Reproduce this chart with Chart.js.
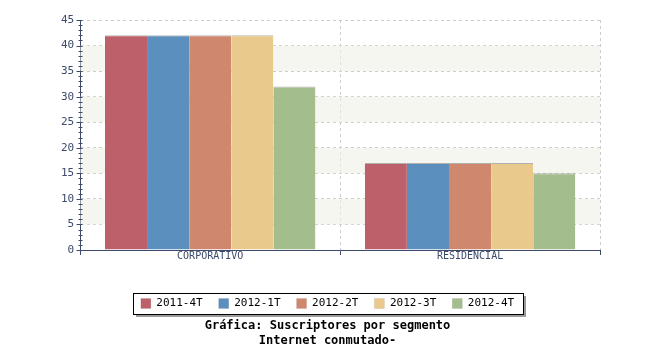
<!DOCTYPE html>
<html>
<head>
<meta charset="utf-8">
<script src="https://cdn.jsdelivr.net/npm/chart.js@4"></script>
<style>
  html, body { margin: 0; padding: 0; background: #fff; }
</style>
</head>
<body>
<canvas id="chart" width="650" height="350"></canvas>
<script>
const categories = ["CORPORATIVO", "RESIDENCIAL"];
const periods = ["2011-4T", "2012-1T", "2012-2T", "2012-3T", "2012-4T"];
const v2011_4T = [42, 17];
const v2012_1T = [42, 17];
const v2012_2T = [42, 17];
const v2012_3T = [42, 17];
const v2012_4T = [32, 15];
const titleLines = ["Gráfica: Suscriptores por segmento", "Internet conmutado-"];

const colors = ["#bd6069", "#5b8fbe", "#cf886e", "#e9ca8c", "#a4bd8c"];
const series = [v2011_4T, v2012_1T, v2012_2T, v2012_3T, v2012_4T];
const mono = "'DejaVu Sans Mono', monospace";
const axisColor = "#3d4a6b";

// alternating bands, minor ticks, legend frame
const decor = {
  id: "decor",
  beforeDraw(chart) {
    const { ctx, legend } = chart;
    const hb = legend.legendHitBoxes;
    if (!hb || !hb.length) return;
    const cy = hb[0].top + hb[0].height / 2;
    const cx = (hb[0].left + hb[hb.length - 1].left + hb[hb.length - 1].width) / 2;
    const w = 390, h = 21;
    const l = Math.round(cx - w / 2), t = Math.round(cy - h / 2);
    ctx.save();
    ctx.fillStyle = "#9a9a9a";
    ctx.fillRect(l + 3, t + 3, w, h);
    ctx.fillStyle = "#fff";
    ctx.fillRect(l, t, w, h);
    ctx.strokeStyle = "#000";
    ctx.lineWidth = 1;
    ctx.strokeRect(l + 0.5, t + 0.5, w, h);
    ctx.restore();
  },
  beforeDatasetsDraw(chart) {
    const { ctx, chartArea: a, scales: { y } } = chart;
    ctx.save();
    ctx.fillStyle = "rgba(240,240,232,0.6)";
    for (let v = 5; v < 45; v += 10) {
      const top = y.getPixelForValue(v + 5), bot = y.getPixelForValue(v);
      ctx.fillRect(a.left, top, a.right - a.left, bot - top);
    }
    ctx.restore();
  },
  afterDraw(chart) {
    const { ctx, scales: { y } } = chart;
    ctx.save();
    ctx.strokeStyle = axisColor;
    ctx.lineWidth = 1;
    const x = Math.round(y.right) + 0.5;
    for (let v = 0; v <= 45; v++) {
      const py = Math.round(y.getPixelForValue(v)) + 0.5;
      ctx.beginPath();
      if (v % 5 === 0) { ctx.moveTo(x - 4, py); ctx.lineTo(x + 2, py); }
      else { ctx.moveTo(x - 2, py); ctx.lineTo(x + 2, py); }
      ctx.stroke();
    }
    ctx.restore();
  }
};

new Chart(document.getElementById("chart"), {
  type: "bar",
  data: {
    labels: categories,
    datasets: periods.map((p, i) => ({
      label: p,
      data: series[i],
      backgroundColor: colors[i],
      borderColor: "rgba(90,90,90,0.45)",
      borderWidth: { top: 1, left: 0, right: 0, bottom: 0 },
      borderSkipped: false,
      categoryPercentage: 0.81,
      barPercentage: 1.0
    }))
  },
  options: {
    responsive: false,
    animation: false,
    layout: { padding: { left: 55, right: 50, top: 20, bottom: 2 } },
    scales: {
      x: {
        grid: {
          offset: true,
          color: "#cccccc",
          tickColor: axisColor,
          tickLength: 5
        },
        border: { color: axisColor, width: 1, dash: [3, 3] },
        ticks: { color: axisColor, font: { family: mono, size: 10 }, padding: -5 },
        afterFit(scale) { scale.height += 25; }
      },
      y: {
        min: 0,
        max: 45,
        ticks: { stepSize: 5, color: axisColor, font: { family: mono, size: 11 }, padding: 6 },
        grid: { color: "#cccccc", drawTicks: false },
        border: { color: axisColor, width: 1, dash: [3, 3] }
      }
    },
    plugins: {
      legend: {
        position: "bottom",
        labels: {
          color: "#000",
          font: { family: mono, size: 11 },
          boxWidth: 10,
          boxHeight: 10,
          padding: 16
        }
      },
      title: {
        display: true,
        position: "bottom",
        text: titleLines,
        color: "#000",
        font: { family: mono, size: 12, weight: "bold", lineHeight: 1.25 },
        padding: { top: -1, bottom: 0 }
      },
      tooltip: { enabled: false }
    }
  },
  plugins: [decor]
});
</script>
</body>
</html>
